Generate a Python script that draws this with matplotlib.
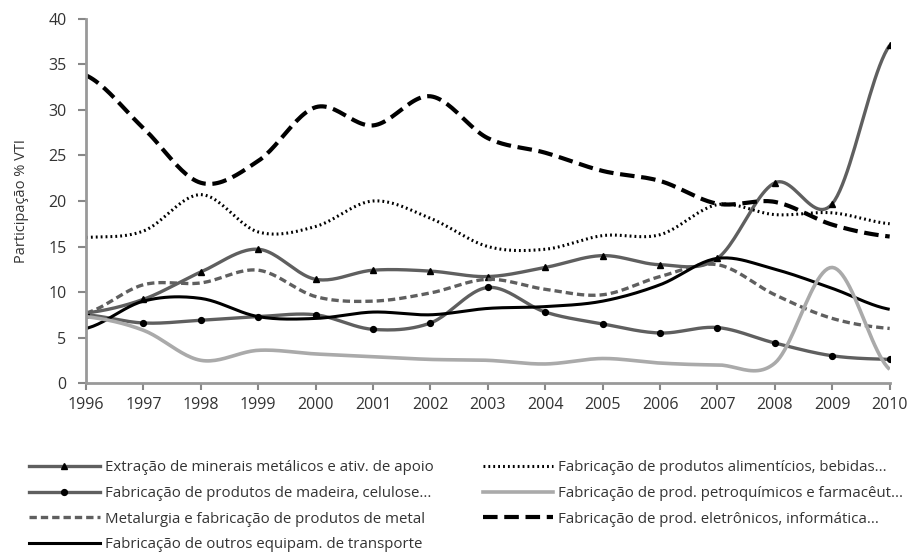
import matplotlib
matplotlib.use("Agg")
import matplotlib.pyplot as plt
from matplotlib.lines import Line2D
import numpy as np

plt.rcParams['font.family'] = ['Open Sans', 'DejaVu Sans']

anos = list(range(1996, 2011))

extracao = [7.7, 9.2, 12.2, 14.7, 11.4, 12.4, 12.3, 11.7, 12.7, 14.0, 13.0, 13.7, 22.0, 19.7, 37.1]
madeira = [7.5, 6.6, 6.9, 7.3, 7.5, 5.9, 6.6, 10.5, 7.8, 6.5, 5.5, 6.1, 4.4, 3.0, 2.6]
metalurgia = [7.7, 10.8, 11.0, 12.4, 9.5, 9.0, 9.9, 11.4, 10.3, 9.7, 11.7, 13.0, 9.7, 7.1, 6.0]
transporte = [6.0, 9.0, 9.3, 7.3, 7.1, 7.8, 7.5, 8.2, 8.4, 9.0, 10.8, 13.7, 12.5, 10.4, 8.1]
alimenticios = [16.0, 16.7, 20.7, 16.6, 17.2, 20.0, 18.1, 15.0, 14.7, 16.2, 16.3, 19.6, 18.5, 18.7, 17.5]
petroquimicos = [7.3, 5.8, 2.5, 3.6, 3.2, 2.9, 2.6, 2.5, 2.1, 2.7, 2.2, 2.0, 2.2, 12.7, 1.5]
eletronicos = [33.8, 28.0, 22.0, 24.4, 30.3, 28.3, 31.5, 26.9, 25.3, 23.3, 22.2, 19.7, 19.9, 17.4, 16.1]

nomes = ["Extração de minerais metálicos e ativ. de apoio",
         "Fabricação de produtos de madeira, celulose...",
         "Metalurgia e fabricação de produtos de metal",
         "Fabricação de outros equipam. de transporte",
         "Fabricação de produtos alimentícios, bebidas...",
         "Fabricação de prod. petroquímicos e farmacêut...",
         "Fabricação de prod. eletrônicos, informática..."]


def suavizar(x, y, n=24):
    # curva suavizada tipo Excel (Catmull-Rom)
    x = np.asarray(x, float)
    y = np.asarray(y, float)
    xs, ys = [], []
    for i in range(len(x) - 1):
        y0 = y[i - 1] if i > 0 else y[i]
        y3 = y[i + 2] if i + 2 < len(y) else y[i + 1]
        m1 = (y[i + 1] - y0) / 2
        m2 = (y3 - y[i]) / 2
        t = np.linspace(0, 1, n, endpoint=(i == len(x) - 2))
        h00 = 2*t**3 - 3*t**2 + 1
        h10 = t**3 - 2*t**2 + t
        h01 = -2*t**3 + 3*t**2
        h11 = t**3 - t**2
        xs.append(x[i] + t*(x[i + 1] - x[i]))
        ys.append(h00*y[i] + h10*m1 + h01*y[i + 1] + h11*m2)
    return np.concatenate(xs), np.concatenate(ys)


escuro = '#5f5f5f'
claro = '#aaaaaa'

series = [
    (extracao, dict(color=escuro, lw=2.4, ls='-'), '^'),
    (madeira, dict(color=escuro, lw=2.4, ls='-'), 'o'),
    (metalurgia, dict(color=escuro, lw=2.4, ls=(0, (2.2, 1.2))), None),
    (transporte, dict(color='black', lw=2.2, ls='-'), None),
    (alimenticios, dict(color='black', lw=2.2, ls=(0, (0.6, 1.0))), None),
    (petroquimicos, dict(color=claro, lw=2.6, ls='-'), None),
    (eletronicos, dict(color='black', lw=3.0, ls=(0, (3.5, 1.6))), None),
]

fig = plt.figure(figsize=(9.21, 5.56), dpi=100)
ax = fig.add_axes([0.0934, 0.311, 0.8726, 0.655])

handles = []
for (dados, estilo, marcador), nome in zip(series, nomes):
    xs, ys = suavizar(anos, dados)
    ax.plot(xs, ys, **estilo, solid_capstyle='butt', dash_capstyle='butt')
    if marcador:
        ax.plot(anos, dados, ls='none', marker=marcador, ms=4.2, color='black')
    handles.append(Line2D([], [], marker=marcador if marcador else None, ms=4.2,
                          mfc='black', mec='black', **estilo))

ax.set_xlim(1996, 2010)
ax.set_ylim(0, 40)
ax.set_xticks(anos)
ax.set_yticks(range(0, 41, 5))
ax.tick_params(labelsize=11.5, colors='#888888', labelcolor='#333333', length=5, width=1.5)
ax.tick_params(axis='y', length=6, pad=8)
ax.tick_params(axis='x', pad=5)
for s in ['top', 'right']:
    ax.spines[s].set_visible(False)
for s in ['left', 'bottom']:
    ax.spines[s].set_color('#999999')
    ax.spines[s].set_linewidth(2)
ax.set_ylabel('Participação % VTI', fontsize=10.5, color='#333333', labelpad=14)
ax.margins(0)

fig.legend(handles, nomes, ncol=2, loc='upper left', bbox_to_anchor=(0.017, 0.197),
           frameon=False, fontsize=10.8, handlelength=4.7, handletextpad=0.33,
           columnspacing=3.3, labelspacing=0.72, labelcolor='#333333')

fig.savefig('out.png', dpi=100)
